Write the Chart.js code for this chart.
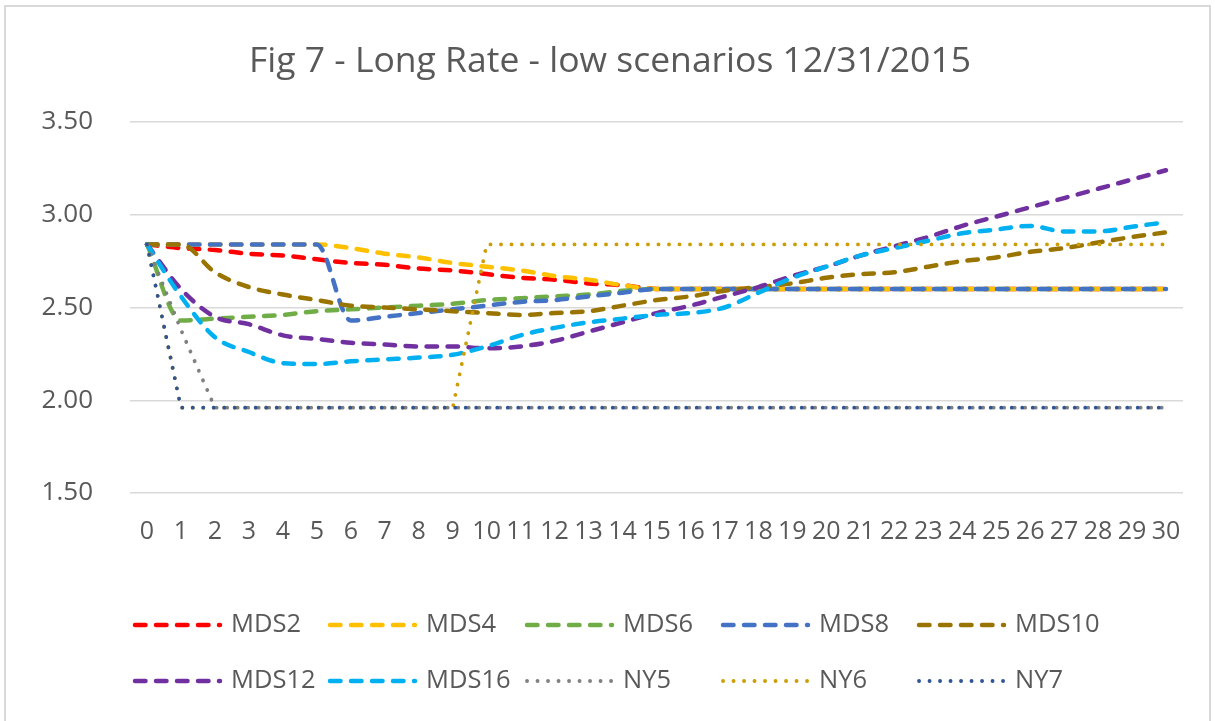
<!DOCTYPE html>
<html>
<head>
<meta charset="utf-8">
<script src="https://cdn.jsdelivr.net/npm/chart.js@4.4.1/dist/chart.umd.min.js"></script>
<style>
  body { margin: 0; background: #fff; }
  #wrap { position: relative; width: 1215px; height: 721px; overflow: hidden; }
  #frame { position: absolute; left: 4px; top: 5px; width: 1207px; height: 720px; border: 2px solid #d9d9d9; box-sizing: border-box; }
  canvas { position: absolute; left: 0; top: 0; }
</style>
</head>
<body>
<div id="wrap">
  <div id="frame"></div>
  <canvas id="chart" width="1215" height="721"></canvas>
</div>
<script>
// years 0..30
var years = [0, 1, 2, 3, 4, 5, 6, 7, 8, 9, 10, 11, 12, 13, 14, 15, 16, 17, 18, 19, 20, 21, 22, 23, 24, 25, 26, 27, 28, 29, 30];

var mds2 = [2.84, 2.82, 2.81, 2.79, 2.78, 2.76, 2.74, 2.73, 2.71, 2.70, 2.68, 2.66, 2.65, 2.63, 2.62, 2.60,
  2.60, 2.60, 2.60, 2.60, 2.60, 2.60, 2.60, 2.60, 2.60, 2.60, 2.60, 2.60, 2.60, 2.60, 2.60];
var mds4 = [2.84, 2.84, 2.84, 2.84, 2.84, 2.84, 2.82, 2.79, 2.77, 2.74, 2.72, 2.70, 2.67, 2.65, 2.62, 2.60,
  2.60, 2.60, 2.60, 2.60, 2.60, 2.60, 2.60, 2.60, 2.60, 2.60, 2.60, 2.60, 2.60, 2.60, 2.60];
var mds6 = [2.84, 2.43, 2.44, 2.45, 2.46, 2.48, 2.49, 2.50, 2.51, 2.52, 2.54, 2.55, 2.56, 2.57, 2.59, 2.60,
  2.60, 2.60, 2.60, 2.60, 2.60, 2.60, 2.60, 2.60, 2.60, 2.60, 2.60, 2.60, 2.60, 2.60, 2.60];
var mds8 = [2.84, 2.84, 2.84, 2.84, 2.84, 2.84, 2.43, 2.45, 2.47, 2.49, 2.51, 2.53, 2.54, 2.56, 2.58, 2.60,
  2.60, 2.60, 2.60, 2.60, 2.60, 2.60, 2.60, 2.60, 2.60, 2.60, 2.60, 2.60, 2.60, 2.60, 2.60];
var mds10 = [2.84, 2.84, 2.69, 2.61, 2.57, 2.54, 2.51, 2.50, 2.49, 2.48, 2.47, 2.46, 2.47, 2.48, 2.51, 2.54,
  2.56, 2.59, 2.61, 2.63, 2.66, 2.68, 2.69, 2.72, 2.75, 2.77, 2.80, 2.82, 2.85, 2.88, 2.905];
var mds12 = [2.84, 2.60, 2.45, 2.41, 2.35, 2.33, 2.31, 2.30, 2.29, 2.29, 2.28, 2.29, 2.32, 2.37, 2.42, 2.47,
  2.51, 2.56, 2.61, 2.67, 2.72, 2.78, 2.83, 2.88, 2.94, 2.99, 3.04, 3.09, 3.14, 3.19, 3.24];
var mds16 = [2.84, 2.56, 2.34, 2.26, 2.20, 2.195, 2.21, 2.22, 2.23, 2.245, 2.29, 2.35, 2.39, 2.42, 2.44, 2.46,
  2.47, 2.50, 2.58, 2.66, 2.72, 2.78, 2.82, 2.86, 2.90, 2.92, 2.94, 2.91, 2.91, 2.935, 2.96];
var ny5 = [2.84, 2.38, 1.96, 1.96, 1.96, 1.96, 1.96, 1.96, 1.96, 1.96, 1.96, 1.96, 1.96, 1.96, 1.96, 1.96,
  1.96, 1.96, 1.96, 1.96, 1.96, 1.96, 1.96, 1.96, 1.96, 1.96, 1.96, 1.96, 1.96, 1.96, 1.96];
var ny6 = [2.84, 1.96, 1.96, 1.96, 1.96, 1.96, 1.96, 1.96, 1.96, 1.96, 2.84, 2.84, 2.84, 2.84, 2.84, 2.84,
  2.84, 2.84, 2.84, 2.84, 2.84, 2.84, 2.84, 2.84, 2.84, 2.84, 2.84, 2.84, 2.84, 2.84, 2.84];
var ny7 = [2.84, 1.96, 1.96, 1.96, 1.96, 1.96, 1.96, 1.96, 1.96, 1.96, 1.96, 1.96, 1.96, 1.96, 1.96, 1.96,
  1.96, 1.96, 1.96, 1.96, 1.96, 1.96, 1.96, 1.96, 1.96, 1.96, 1.96, 1.96, 1.96, 1.96, 1.96];

var seriesNames = ["MDS2", "MDS4", "MDS6", "MDS8", "MDS10", "MDS12", "MDS16", "NY5", "NY6", "NY7"];
var seriesData = [mds2, mds4, mds6, mds8, mds10, mds12, mds16, ny5, ny6, ny7];
var colors = ["#ff0000", "#ffc000", "#70ad47", "#4472c4", "#9a7400", "#7030a0", "#00b0f0", "#808080", "#cc9e06", "#2f5597"];

var FONT = "'Open Sans', sans-serif";
var TEXT = "#595959";

function makeDataset(i) {
  var dotted = seriesNames[i].indexOf("NY") === 0;
  return {
    label: seriesNames[i],
    data: seriesData[i],
    borderColor: colors[i],
    backgroundColor: colors[i],
    borderWidth: dotted ? 3.8 : 4.5,
    borderDash: dotted ? [0.1, 10.4] : [10.5, 10.5],
    borderCapStyle: "round",
    pointRadius: 0,
    fill: false,
    tension: dotted ? 0 : 0.4,
    cubicInterpolationMode: dotted ? "default" : "monotone",
    order: seriesNames.length - i // later series drawn on top, like Excel
  };
}

var datasets = [];
for (var i = 0; i < seriesNames.length; i++) datasets.push(makeDataset(i));

// legend laid out in a 5 x 2 grid under the plot
var legendCols = [133, 328, 525, 721, 917];
var legendRows = [625, 681];

var gridLegend = {
  id: "gridLegend",
  afterDraw: function (chart) {
    var ctx = chart.ctx;
    ctx.save();
    chart.data.datasets.forEach(function (ds, i) {
      var x = legendCols[i % 5];
      var y = legendRows[Math.floor(i / 5)];
      ctx.beginPath();
      ctx.strokeStyle = ds.borderColor;
      ctx.lineWidth = ds.borderWidth;
      ctx.lineCap = "round";
      ctx.setLineDash(ds.borderDash);
      ctx.moveTo(x + 2, y);
      ctx.lineTo(x + 87, y);
      ctx.stroke();
      ctx.setLineDash([]);
      ctx.fillStyle = TEXT;
      ctx.font = "25.5px " + FONT;
      ctx.textBaseline = "middle";
      ctx.textAlign = "left";
      ctx.fillText(ds.label, x + 98, y);
    });
    ctx.restore();
  }
};

new Chart(document.getElementById("chart").getContext("2d"), {
  type: "line",
  data: { labels: years, datasets: datasets },
  plugins: [gridLegend],
  options: {
    responsive: false,
    animation: false,
    devicePixelRatio: 1,
    layout: { padding: { left: 37, right: 32, top: 0, bottom: 0 } },
    plugins: {
      legend: { display: false },
      tooltip: { enabled: false },
      title: {
        display: true,
        text: "Fig 7 - Long Rate - low scenarios 12/31/2015",
        color: TEXT,
        font: { family: FONT, size: 35.5, weight: "normal" },
        padding: { top: 41, bottom: 38.4 }
      }
    },
    scales: {
      x: {
        offset: true,
        grid: { display: false },
        border: { display: false },
        ticks: {
          autoSkip: false,
          maxRotation: 0,
          color: TEXT,
          padding: 16,
          font: { family: FONT, size: 25 }
        },
        afterFit: function (scale) { scale.height = 228; }
      },
      y: {
        min: 1.5,
        max: 3.5,
        border: { display: false },
        grid: { color: "#d9d9d9", lineWidth: 1.5, drawTicks: false },
        ticks: {
          stepSize: 0.5,
          color: TEXT,
          padding: 37,
          font: { family: FONT, size: 26 },
          callback: function (v) { return v.toFixed(2); }
        },
        afterFit: function (scale) { scale.width = 93; }
      }
    }
  }
});
</script>
</body>
</html>
